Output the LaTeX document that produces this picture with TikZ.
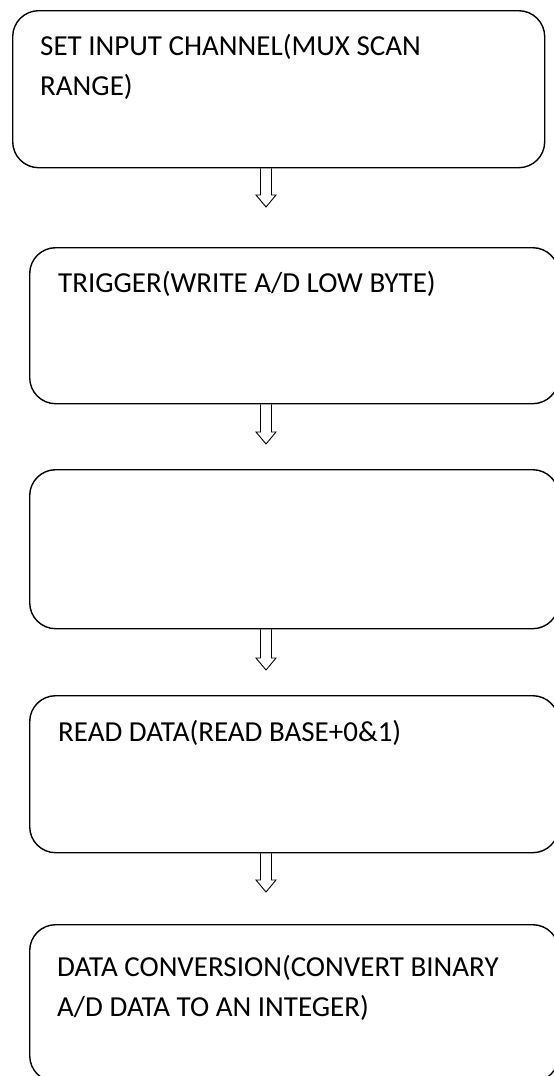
\documentclass[tikz,border=0pt]{standalone}
\usepackage{fontspec}
\setmainfont{Carlito}
\usetikzlibrary{calc}
\begin{document}
\begin{tikzpicture}[x=1pt,y=-1pt,stepbox/.style={draw,line width=1.4pt,rounded corners=26pt,inner sep=0pt,minimum width=529pt,minimum height=157pt,anchor=north west},steptext/.style={inner sep=0pt,align=left,anchor=base west,font=\fontsize{29}{40}\selectfont},hollow/.style={draw,line width=0.9pt,line join=miter}]
\useasboundingbox (0,0) rectangle (554,1076);

% Boxes
\node[stepbox,minimum width=532pt] (setch) at (12,10) {};
\node[steptext] (setchtext) at (40,95) {SET INPUT CHANNEL(MUX SCAN\\RANGE)};

\node[stepbox,minimum height=156pt] (trig) at (29,247) {};
\node[steptext] (trigtext) at (58,292) {TRIGGER(WRITE A/D LOW BYTE)};

\node[stepbox,minimum height=159pt] (wait) at (29,469) {};

\node[stepbox] (read) at (29,695) {};
\node[steptext] (readtext) at (58,741) {READ DATA(READ BASE+0\&1)};

\node[stepbox] (conv) at (29,924) {};
\node[steptext] (convtext) at (57,1016) {DATA CONVERSION(CONVERT BINARY\\A/D DATA TO AN INTEGER)};

% Arrows
\coordinate (a1s) at (setch.south -| 266,0);
\coordinate (a1t) at (266,207);
\coordinate (a2s) at (trig.south -| 266,0);
\coordinate (a2t) at (266,444);
\coordinate (a3s) at (wait.south -| 266,0);
\coordinate (a3t) at (266,670);
\coordinate (a4s) at (read.south -| 266,0);
\coordinate (a4t) at (266,892);

\draw[hollow] ($(a1s)+(-5.5,0)$) -- ($(a1t)+(-5.5,-12)$) -- ($(a1t)+(-10,-12)$) -- (a1t) -- ($(a1t)+(10,-12)$) -- ($(a1t)+(5.5,-12)$) -- ($(a1s)+(5.5,0)$);
\draw[hollow] ($(a2s)+(-5.5,0)$) -- ($(a2t)+(-5.5,-12)$) -- ($(a2t)+(-10,-12)$) -- (a2t) -- ($(a2t)+(10,-12)$) -- ($(a2t)+(5.5,-12)$) -- ($(a2s)+(5.5,0)$);
\draw[hollow] ($(a3s)+(-5.5,0)$) -- ($(a3t)+(-5.5,-12)$) -- ($(a3t)+(-10,-12)$) -- (a3t) -- ($(a3t)+(10,-12)$) -- ($(a3t)+(5.5,-12)$) -- ($(a3s)+(5.5,0)$);
\draw[hollow] ($(a4s)+(-5.5,0)$) -- ($(a4t)+(-5.5,-12)$) -- ($(a4t)+(-10,-12)$) -- (a4t) -- ($(a4t)+(10,-12)$) -- ($(a4t)+(5.5,-12)$) -- ($(a4s)+(5.5,0)$);

\end{tikzpicture}
\end{document}
